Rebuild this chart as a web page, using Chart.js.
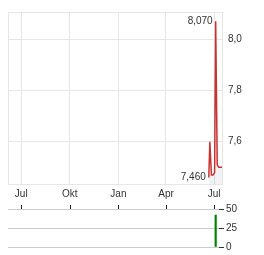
<!DOCTYPE html>
<html>
<head>
<meta charset="utf-8">
<script src="https://cdn.jsdelivr.net/npm/chart.js@4/dist/chart.umd.min.js"></script>
<style>
  body { margin: 0; background: #fff; }
  canvas { position: absolute; left: 0; }
</style>
</head>
<body>
<canvas id="price" width="264" height="200" style="top:0"></canvas>
<canvas id="volume" width="264" height="55" style="top:200px"></canvas>
<script>
// days counted from 1 Jul 2024
var monthDays = [0, 92, 184, 274, 365];
var monthLabels = ['Jul', 'Okt', 'Jan', 'Apr', 'Jul'];

var priceDays = [355, 357, 360, 363, 366, 368, 371, 374, 377, 380];
var priceValues = [7.46, 7.60, 7.47, 7.47, 7.48, 8.07, 7.51, 7.50, 7.50, 7.50];

var volumeDays = [368];
var volumeValues = [42];

var priceTicks = [7.6, 7.8, 8.0];
var volumeTicks = [0, 25, 50];

var textColor = '#333';
var font = { family: 'Liberation Sans, Arial', size: 10 };

function monthTicks(scale) {
  scale.ticks = monthDays.map(function(d) { return { value: d }; });
}

var boxPlugin = {
  id: 'box',
  beforeDatasetsDraw: function(chart) {
    var a = chart.chartArea, c = chart.ctx;
    c.save();
    c.strokeStyle = '#e6e6e6';
    c.lineWidth = 1;
    c.strokeRect(Math.round(a.left) + 0.5, Math.round(a.top) + 0.5,
      Math.round(a.right - a.left), Math.round(a.bottom - a.top));
    c.restore();
  }
};

var hiLoPlugin = {
  id: 'hilo',
  afterDatasetsDraw: function(chart) {
    var meta = chart.getDatasetMeta(0);
    var vals = chart.data.datasets[0].data;
    var hi = 0, lo = 0;
    vals.forEach(function(p, i) {
      if (p.y > vals[hi].y) hi = i;
      if (p.y < vals[lo].y) lo = i;
    });
    var c = chart.ctx;
    c.save();
    c.font = '10px Liberation Sans, Arial';
    c.fillStyle = textColor;
    c.textAlign = 'right';
    c.textBaseline = 'middle';
    [hi, lo].forEach(function(i) {
      var el = meta.data[i];
      c.fillText(vals[i].y.toFixed(3).replace('.', ','), el.x - 3, el.y);
    });
    c.restore();
  }
};

// small month marks above the volume panel
var monthMarks = {
  id: 'marks',
  afterDraw: function(chart) {
    var s = chart.scales.x, top = Math.round(chart.chartArea.top), c = chart.ctx;
    c.save();
    c.strokeStyle = '#222';
    c.lineWidth = 1;
    monthDays.forEach(function(d) {
      var x = Math.round(s.getPixelForValue(d)) + 0.5;
      c.beginPath();
      c.moveTo(x, top - 4);
      c.lineTo(x, top);
      c.stroke();
    });
    c.restore();
  }
};

new Chart(document.getElementById('price').getContext('2d'), {
  type: 'line',
  data: {
    datasets: [{
      data: priceDays.map(function(d, i) { return { x: d, y: priceValues[i] }; }),
      borderColor: '#c83232',
      borderWidth: 1.5,
      backgroundColor: 'rgba(0,0,0,0.05)',
      fill: 'start',
      pointRadius: 0,
      tension: 0
    }]
  },
  options: {
    responsive: false,
    animation: false,
    layout: { padding: { left: 8, top: 7, right: 0, bottom: 0 } },
    plugins: { legend: { display: false }, tooltip: { enabled: false } },
    scales: {
      x: {
        type: 'linear',
        min: -25,
        max: 380,
        afterBuildTicks: monthTicks,
        afterFit: function(s) { s.height = 16; },
        grid: { color: '#e6e6e6', drawTicks: false },
        border: { display: false },
        ticks: {
          color: textColor,
          font: font,
          padding: 4,
          maxRotation: 0,
          autoSkip: false,
          callback: function(v) { return monthLabels[monthDays.indexOf(v)]; }
        }
      },
      y: {
        position: 'right',
        min: 7.435,
        max: 8.106,
        afterBuildTicks: function(s) {
          s.ticks = priceTicks.map(function(v) { return { value: v }; });
        },
        afterFit: function(s) { s.width = 42; },
        grid: { color: '#e6e6e6', drawTicks: false },
        border: { display: false },
        ticks: {
          color: textColor,
          font: font,
          padding: 6,
          callback: function(v) { return v.toFixed(1).replace('.', ','); }
        }
      }
    }
  },
  plugins: [boxPlugin, hiLoPlugin]
});

new Chart(document.getElementById('volume').getContext('2d'), {
  type: 'bar',
  data: {
    datasets: [{
      data: volumeDays.map(function(d, i) { return { x: d, y: volumeValues[i] }; }),
      backgroundColor: '#008000',
      barThickness: 1.5
    }]
  },
  options: {
    responsive: false,
    animation: false,
    layout: { padding: { left: 8, top: 9, right: 0, bottom: 8 } },
    plugins: { legend: { display: false }, tooltip: { enabled: false } },
    scales: {
      x: {
        type: 'linear',
        min: -25,
        max: 374.3,
        offset: false,
        display: false
      },
      y: {
        position: 'right',
        min: 0,
        max: 50,
        afterBuildTicks: function(s) {
          s.ticks = volumeTicks.map(function(v) { return { value: v }; });
        },
        afterFit: function(s) { s.width = 45; },
        grid: { color: '#cccccc', tickColor: '#333', tickLength: 5 },
        border: { display: false },
        ticks: { color: textColor, font: font, padding: 2 }
      }
    }
  },
  plugins: [monthMarks]
});
</script>
</body>
</html>
